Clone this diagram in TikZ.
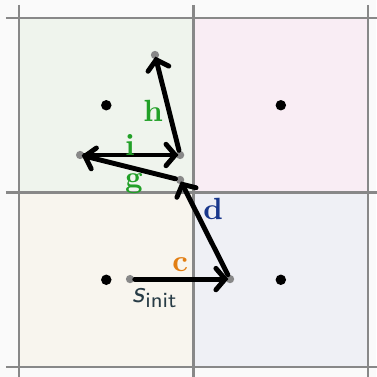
\documentclass[tikz,border=0pt]{standalone}
\usepackage{xcolor}
\usepackage{tikz}
\usetikzlibrary{arrows.meta, positioning}

\definecolor{bggray}{RGB}{250,250,250}
\definecolor{gridgray}{RGB}{136,136,136}
\definecolor{cellgreen}{RGB}{239,244,237}
\definecolor{cellpink}{RGB}{249,237,244}
\definecolor{cellbeige}{RGB}{248,245,238}
\definecolor{cellblue}{RGB}{239,240,245}
\definecolor{lblgreen}{RGB}{34,160,40}
\definecolor{lblorange}{RGB}{226,126,18}
\definecolor{lblblue}{RGB}{25,55,140}
\definecolor{lblslate}{RGB}{40,60,70}

\tikzset{
  cellctr/.style={circle, fill=black, inner sep=0pt, minimum size=0.12cm},
  waypt/.style={circle, fill=gridgray, inner sep=0pt, minimum size=0.095cm},
  move/.style={line width=1.6pt, line cap=round, -{Straight Barb[length=3pt,width=7pt,line cap=round]}, shorten >=-1pt},
  lbl/.style={font=\bfseries, inner sep=0pt}
}

\begin{document}
\begin{tikzpicture}[x=2cm, y=2cm]
  % page and cells
  \useasboundingbox (-0.109,-0.057) rectangle (2.046,2.103);
  \fill[bggray] (-0.109,-0.057) rectangle (2.046,2.103);
  \fill[cellbeige] (0,0) rectangle (1,1);
  \fill[cellblue] (1,0) rectangle (2,1);
  \fill[cellgreen] (0,1) rectangle (1,2);
  \fill[cellpink] (1,1) rectangle (2,2);
  % grid lines
  \foreach \k in {0,1,2} {
    \draw[gridgray, line width=0.7pt] (-0.075,\k) -- (2.1,\k);
    \draw[gridgray, line width=0.7pt] (\k,2.075) -- (\k,-0.1);
  }
  % cell centres
  \node[cellctr] (ctrA) at (0.5,0.5) {};
  \node[cellctr] (ctrB) at (1.5,0.5) {};
  \node[cellctr] (ctrC) at (0.5,1.5) {};
  \node[cellctr] (ctrD) at (1.5,1.5) {};
  % trajectory points
  \node[waypt] (sinit) at (0.636,0.504) {};
  \node[waypt] (p1) at (1.209,0.504) {};
  \node[waypt] (p2) at (0.923,1.072) {};
  \node[waypt] (p3) at (0.350,1.215) {};
  \node[waypt] (p4) at (0.923,1.215) {};
  \node[waypt] (p5) at (0.779,1.788) {};
  % moves
  \draw[move] (sinit) -- (p1);
  \draw[move] (p1) -- (p2);
  \draw[move] (p2) -- (p3);
  \draw[move] (p3) -- (p4);
  \draw[move] (p4) -- (p5);
  % labels
  \node[lbl, lblorange] (labc) at (0.923,0.585) {c};
  \node[lbl, lblblue] (labd) at (1.112,0.905) {d};
  \node[lbl, lblgreen] (labg) at (0.659,1.049) {g};
  \node[lbl, lblgreen] (labi) at (0.636,1.275) {i};
  \node[lbl, lblgreen] (labh) at (0.768,1.467) {h};
  \node[lblslate, inner sep=0pt] (labs) at (0.779,0.395) {\textsf{\textit{s}}\textsubscript{\textsf{init}}};
\end{tikzpicture}
\end{document}
